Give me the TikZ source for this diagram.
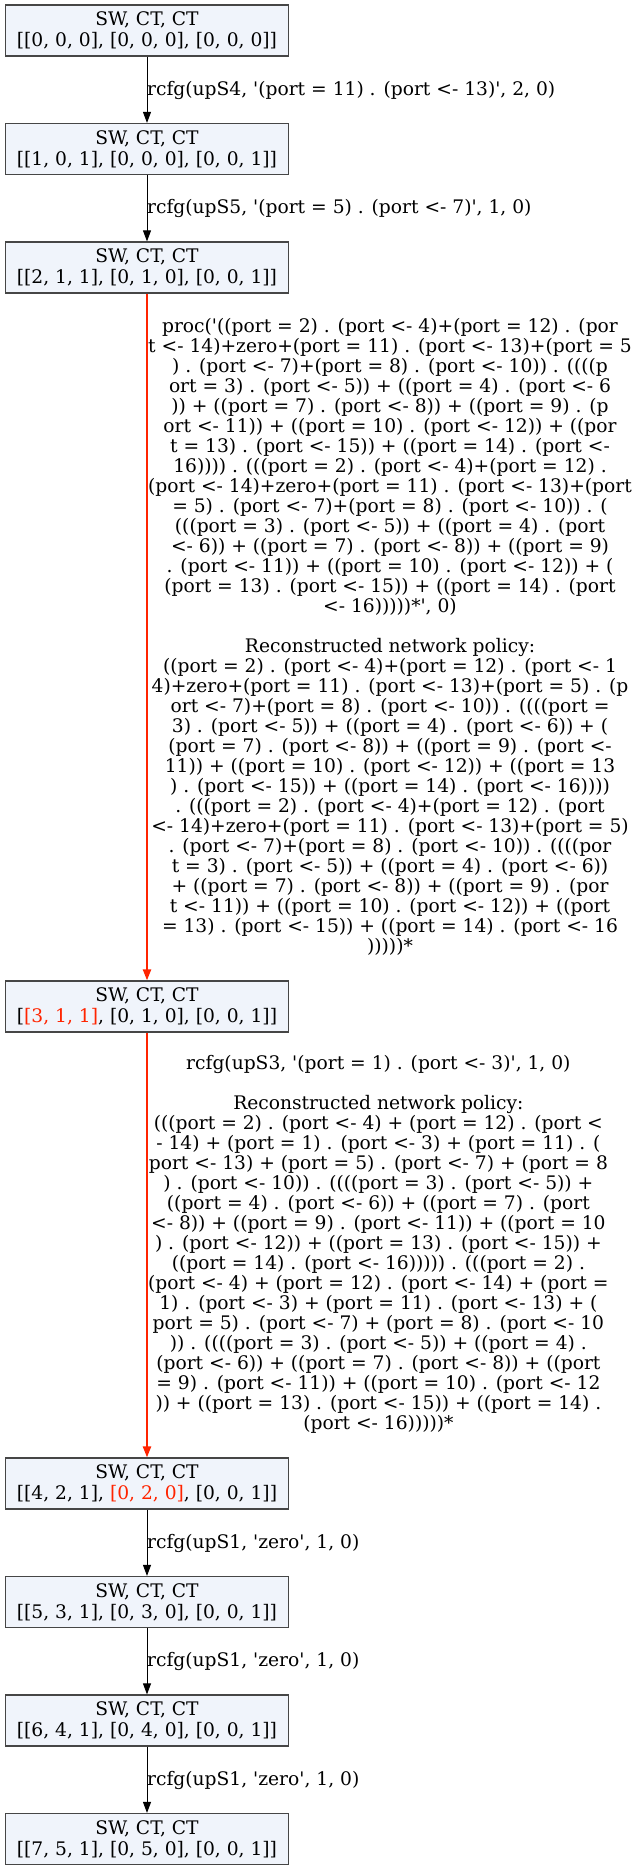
\documentclass[tikz,border=0pt]{standalone}
\usepackage{fontspec}
\setmainfont{DejaVu Serif}[Ligatures=TeXOff]
\usetikzlibrary{arrows.meta}
\definecolor{nodefill}{RGB}{240,244,251}
\definecolor{nodeborder}{RGB}{70,70,70}
\definecolor{hot}{RGB}{255,36,0}
\tikzset{
  statebox/.style={draw=nodeborder, fill=nodefill, line width=1.2pt, minimum width=283pt, minimum height=51pt, inner sep=0pt, align=center, font=\fontsize{18.67}{21}\selectfont},
  lbl/.style={anchor=west, inner sep=0pt, align=center, font=\fontsize{18.67}{20}\selectfont},
  blkedge/.style={draw=black, line width=0.9pt, -{Triangle[length=11pt,width=8pt]}},
  hotedge/.style={draw=hot, line width=2.2pt, -{Triangle[length=11pt,width=8pt]}, color=hot}
}
\begin{document}
\begin{tikzpicture}[x=1pt,y=-1pt]
\useasboundingbox (0,0) rectangle (638,1869);
\node[statebox] (n1) at (147,30.5) {SW, CT, CT\\{}[[0, 0, 0], [0, 0, 0], [0, 0, 0]]};
\node[statebox] (n2) at (147,149) {SW, CT, CT\\{}[[1, 0, 1], [0, 0, 0], [0, 0, 1]]};
\node[statebox] (n3) at (147,267.5) {SW, CT, CT\\{}[[2, 1, 1], [0, 1, 0], [0, 0, 1]]};
\node[statebox] (n4) at (147,1006.5) {SW, CT, CT\\{}[\textcolor{hot}{[3, 1, 1]}, [0, 1, 0], [0, 0, 1]]};
\node[statebox] (n5) at (147,1483.5) {SW, CT, CT\\{}[[4, 2, 1], \textcolor{hot}{[0, 2, 0]}, [0, 0, 1]]};
\node[statebox] (n6) at (147,1602) {SW, CT, CT\\{}[[5, 3, 1], [0, 3, 0], [0, 0, 1]]};
\node[statebox] (n7) at (147,1720.5) {SW, CT, CT\\{}[[6, 4, 1], [0, 4, 0], [0, 0, 1]]};
\node[statebox] (n8) at (147,1839) {SW, CT, CT\\{}[[7, 5, 1], [0, 5, 0], [0, 0, 1]]};

\draw[blkedge] (n1) -- (n2);
\draw[blkedge] (n2) -- (n3);
\draw[hotedge] (n3) -- (n4);
\draw[hotedge] (n4) -- (n5);
\draw[blkedge] (n5) -- (n6);
\draw[blkedge] (n6) -- (n7);
\draw[blkedge] (n7) -- (n8);

\node[lbl] (l1) at (147,90) {rcfg(upS4, '(port = 11) . (port <- 13)', 2, 0)};
\node[lbl] (l2) at (147,208.5) {rcfg(upS5, '(port = 5) . (port <- 7)', 1, 0)};
\node[lbl] (l3) at (148,637) {proc('((port = 2) . (port <- 4)+(port = 12) . (por\\
t <- 14)+zero+(port = 11) . (port <- 13)+(port = 5\\
) . (port <- 7)+(port = 8) . (port <- 10)) . ((((p\\
ort = 3) . (port <- 5)) + ((port = 4) . (port <- 6\\
)) + ((port = 7) . (port <- 8)) + ((port = 9) . (p\\
ort <- 11)) + ((port = 10) . (port <- 12)) + ((por\\
t = 13) . (port <- 15)) + ((port = 14) . (port <-\\
16)))) . (((port = 2) . (port <- 4)+(port = 12) .\\
(port <- 14)+zero+(port = 11) . (port <- 13)+(port\\
= 5) . (port <- 7)+(port = 8) . (port <- 10)) . (\\
(((port = 3) . (port <- 5)) + ((port = 4) . (port\\
<- 6)) + ((port = 7) . (port <- 8)) + ((port = 9)\\
. (port <- 11)) + ((port = 10) . (port <- 12)) + (\\
(port = 13) . (port <- 15)) + ((port = 14) . (port\\
<- 16)))))*', 0)\\
\mbox{}\\
Reconstructed network policy:\\
((port = 2) . (port <- 4)+(port = 12) . (port <- 1\\
4)+zero+(port = 11) . (port <- 13)+(port = 5) . (p\\
ort <- 7)+(port = 8) . (port <- 10)) . ((((port =\\
3) . (port <- 5)) + ((port = 4) . (port <- 6)) + (\\
(port = 7) . (port <- 8)) + ((port = 9) . (port <-\\
11)) + ((port = 10) . (port <- 12)) + ((port = 13\\
) . (port <- 15)) + ((port = 14) . (port <- 16))))\\
. (((port = 2) . (port <- 4)+(port = 12) . (port\\
<- 14)+zero+(port = 11) . (port <- 13)+(port = 5)\\
. (port <- 7)+(port = 8) . (port <- 10)) . ((((por\\
t = 3) . (port <- 5)) + ((port = 4) . (port <- 6))\\
+ ((port = 7) . (port <- 8)) + ((port = 9) . (por\\
t <- 11)) + ((port = 10) . (port <- 12)) + ((port\\
= 13) . (port <- 15)) + ((port = 14) . (port <- 16\\
)))))*};
\node[lbl] (l4) at (148,1244) {rcfg(upS3, '(port = 1) . (port <- 3)', 1, 0)\\
\mbox{}\\
Reconstructed network policy:\\
(((port = 2) . (port <- 4) + (port = 12) . (port <\\
- 14) + (port = 1) . (port <- 3) + (port = 11) . (\\
port <- 13) + (port = 5) . (port <- 7) + (port = 8\\
) . (port <- 10)) . ((((port = 3) . (port <- 5)) +\\
((port = 4) . (port <- 6)) + ((port = 7) . (port\\
<- 8)) + ((port = 9) . (port <- 11)) + ((port = 10\\
) . (port <- 12)) + ((port = 13) . (port <- 15)) +\\
((port = 14) . (port <- 16))))) . (((port = 2) .\\
(port <- 4) + (port = 12) . (port <- 14) + (port =\\
1) . (port <- 3) + (port = 11) . (port <- 13) + (\\
port = 5) . (port <- 7) + (port = 8) . (port <- 10\\
)) . ((((port = 3) . (port <- 5)) + ((port = 4) .\\
(port <- 6)) + ((port = 7) . (port <- 8)) + ((port\\
= 9) . (port <- 11)) + ((port = 10) . (port <- 12\\
)) + ((port = 13) . (port <- 15)) + ((port = 14) .\\
(port <- 16)))))*};
\node[lbl] (l5) at (147,1543) {rcfg(upS1, 'zero', 1, 0)};
\node[lbl] (l6) at (147,1661) {rcfg(upS1, 'zero', 1, 0)};
\node[lbl] (l7) at (147,1780) {rcfg(upS1, 'zero', 1, 0)};
\end{tikzpicture}
\end{document}
